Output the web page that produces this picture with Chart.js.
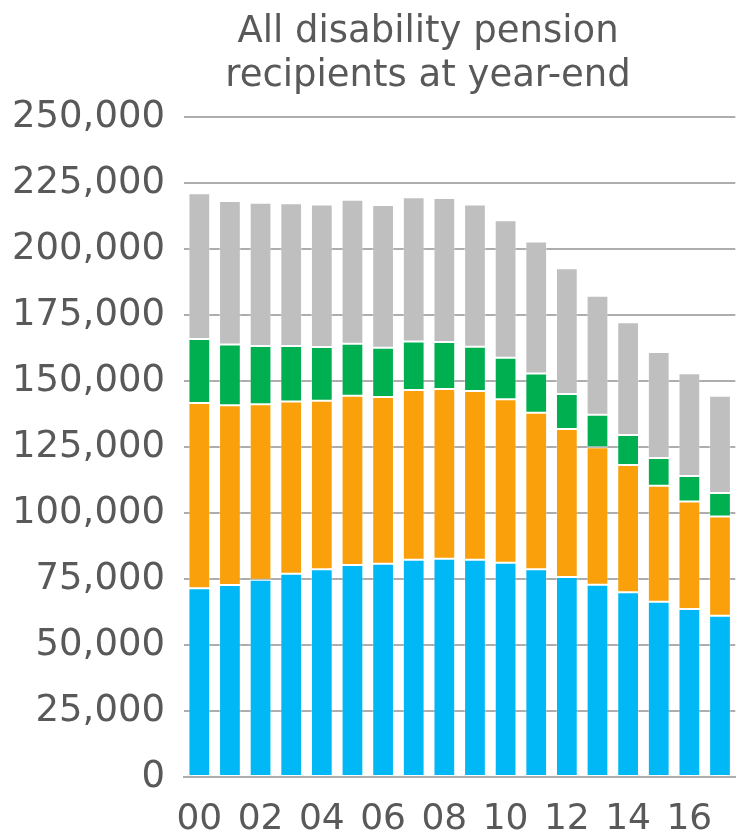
<!DOCTYPE html>
<html>
<head>
<meta charset="utf-8">
<script src="https://cdn.jsdelivr.net/npm/chart.js@4/dist/chart.umd.min.js"></script>
<style>
  html, body { margin: 0; padding: 0; background: #ffffff; }
  #wrap { width: 741px; height: 837px; position: relative; }
</style>
</head>
<body>
<div id="wrap"><canvas id="c" width="741" height="837"></canvas></div>
<script>
const years = ['00','01','02','03','04','05','06','07','08','09','10','11','12','13','14','15','16','17'];
const seriesBlue   = [71500, 72700, 74700, 77000, 78700, 80300, 80800, 82300, 82700, 82300, 81200, 78700, 75800, 72800, 70000, 66400, 63600, 61100];
const seriesOrange = [70200, 68100, 66500, 65200, 63800, 64100, 63100, 64300, 64300, 63900, 61900, 59300, 56000, 52100, 48200, 43900, 40800, 37600];
const seriesGreen  = [24200, 23000, 22100, 21100, 20400, 19700, 18700, 18400, 17800, 16800, 15700, 14800, 13300, 12300, 11300, 10500, 9600, 8900];
const seriesGrey   = [55200, 54400, 54200, 54000, 54000, 54600, 54100, 54600, 54500, 53900, 52100, 50000, 47600, 45100, 42800, 40200, 38900, 36800];
const yTicks = [0, 25000, 50000, 75000, 100000, 125000, 150000, 175000, 200000, 225000, 250000];
const titleLines = ['All disability pension', 'recipients at year-end'];

const FONT = "'DejaVu Sans', Verdana, sans-serif";
const TEXT = '#595959';
const GRID = '#ADADAD';

function ds(label, data, color) {
  return {
    label: label,
    data: data,
    backgroundColor: color,
    borderColor: 'rgba(255,255,255,0.35)',
    borderWidth: 1,
    borderSkipped: false,
    categoryPercentage: 1.0,
    barPercentage: 0.71
  };
}

const titlePlugin = {
  id: 'customTitle',
  afterDraw(chart) {
    const ctx = chart.ctx;
    ctx.save();
    ctx.font = '37px ' + FONT;
    ctx.fillStyle = TEXT;
    ctx.textAlign = 'center';
    ctx.textBaseline = 'alphabetic';
    ctx.fillText(titleLines[0], 428, 42);
    ctx.fillText(titleLines[1], 428, 85.5);
    ctx.restore();
  }
};

new Chart(document.getElementById('c'), {
  type: 'bar',
  data: {
    labels: years,
    datasets: [
      ds('Series 1', seriesBlue, '#00B8F5'),
      ds('Series 2', seriesOrange, '#F9A00B'),
      ds('Series 3', seriesGreen, '#00AF50'),
      ds('Series 4', seriesGrey, '#BFBFBF')
    ]
  },
  plugins: [titlePlugin],
  options: {
    responsive: false,
    animation: false,
    layout: { padding: { left: 0, right: 0, top: 117, bottom: 0 } },
    plugins: {
      legend: { display: false },
      tooltip: { enabled: false },
      title: { display: false }
    },
    scales: {
      x: {
        stacked: true,
        afterFit: function (axis) { axis.height = 60; },
        grid: { display: false, drawTicks: false },
        border: { display: true, color: GRID, width: 2 },
        ticks: {
          color: TEXT,
          font: { family: FONT, size: 36 },
          autoSkip: false,
          maxRotation: 0,
          minRotation: 0,
          padding: 21,
          callback: function (v, i) { return i % 2 === 0 ? years[i] : ''; }
        }
      },
      y: {
        stacked: true,
        min: 0,
        max: 250000,
        afterBuildTicks: function (axis) { axis.ticks = yTicks.map(v => ({ value: v })); },
        afterFit: function (axis) { axis.width = 184; },
        grid: { color: GRID, lineWidth: 2, drawTicks: false },
        border: { display: false },
        ticks: {
          color: TEXT,
          font: { family: FONT, size: 37 },
          padding: 19,
          callback: function (v) { return Number(v).toLocaleString('en-US'); }
        }
      }
    }
  }
});
</script>
</body>
</html>
